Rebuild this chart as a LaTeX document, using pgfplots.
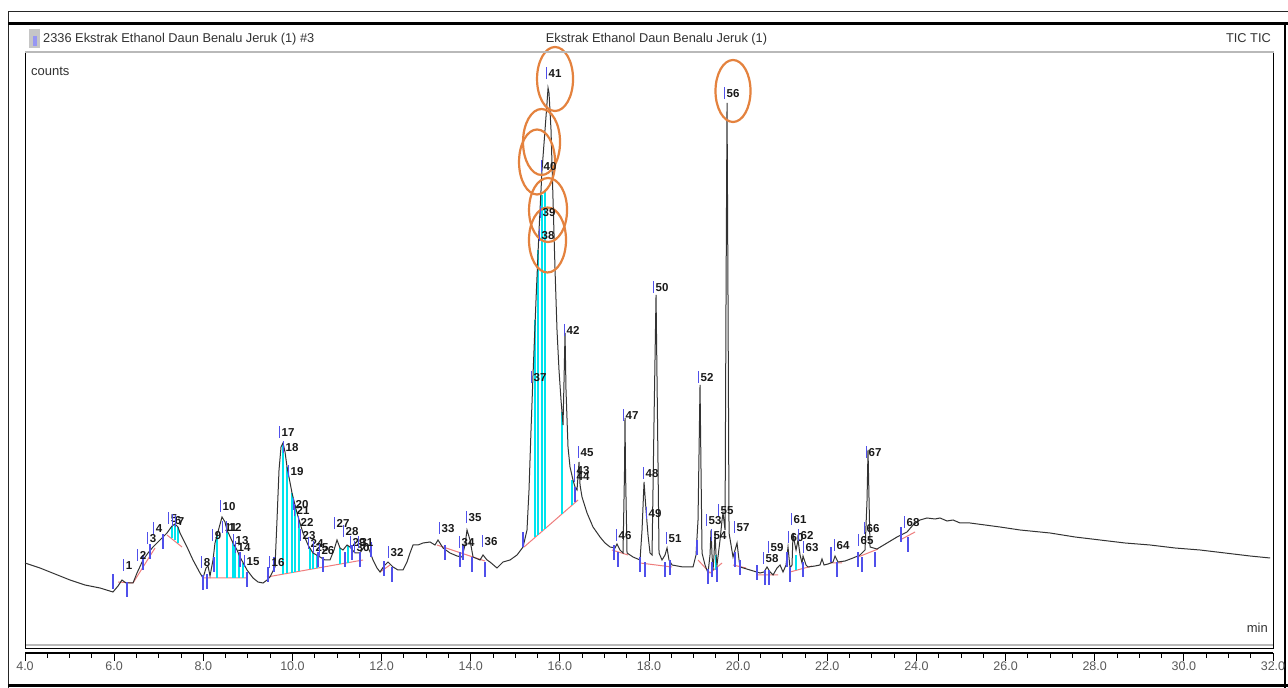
\documentclass[border=0pt]{standalone}
\usepackage{pgfplots}
\usepackage{pgfplotstable}
\pgfplotsset{compat=1.18}
\usepackage{fontspec}
\setmainfont{Liberation Sans}
\definecolor{pkblue}{RGB}{80,80,235}
\definecolor{pkcyan}{RGB}{0,228,238}
\definecolor{pkred}{RGB}{238,125,125}
\definecolor{circ}{RGB}{228,130,62}
\definecolor{txt}{RGB}{50,50,50}

% retention time (min)  vs  signal height (relative counts)
\pgfplotstableread{
t v
4.000 85
4.337 80
4.673 74
5.010 68
5.346 63
5.683 60
5.974 56
6.087 62
6.176 68
6.266 65
6.423 65
6.513 75
6.648 88
6.760 95
6.872 101
7.029 108
7.186 115
7.298 122
7.366 124
7.433 121
7.478 115
7.635 101
7.769 88
7.926 75
7.994 70
8.061 80
8.106 82
8.151 72
8.218 88
8.263 105
8.353 120
8.420 131
8.487 126
8.532 118
8.667 105
8.757 98
8.824 91
8.981 78
9.116 70
9.228 66
9.340 65
9.430 68
9.497 71
9.609 81
9.654 128
9.699 178
9.744 201
9.789 205
9.834 196
9.879 181
9.991 155
10.103 135
10.237 115
10.350 103
10.462 95
10.619 91
10.731 88
10.843 88
10.933 98
11.000 108
11.068 100
11.135 98
11.225 103
11.292 101
11.404 95
11.516 95
11.606 101
11.673 103
11.741 96
11.808 88
11.898 80
11.965 76
12.055 82
12.145 86
12.257 81
12.369 78
12.481 78
12.571 86
12.638 95
12.706 103
12.818 103
12.930 105
13.087 106
13.199 103
13.266 108
13.379 100
13.536 95
13.693 92
13.805 91
13.872 103
13.917 118
13.984 108
14.052 91
14.209 88
14.276 93
14.366 88
14.433 86
14.590 80
14.725 86
14.882 88
15.039 93
15.174 101
15.263 118
15.308 158
15.353 218
15.398 273
15.465 348
15.533 418
15.600 478
15.667 518
15.712 545
15.735 560
15.757 555
15.802 518
15.847 448
15.892 378
15.936 318
15.981 278
16.026 248
16.071 223
16.094 268
16.116 315
16.138 258
16.183 201
16.228 181
16.295 168
16.340 161
16.385 158
16.430 186
16.453 163
16.497 151
16.610 135
16.744 121
16.901 111
17.013 105
17.126 101
17.238 100
17.283 104
17.350 98
17.417 95
17.451 178
17.462 230
17.473 178
17.507 95
17.642 91
17.799 88
17.844 118
17.889 166
17.933 138
17.978 113
18.023 95
18.068 93
18.113 228
18.158 353
18.191 228
18.225 95
18.292 88
18.360 93
18.405 100
18.449 88
18.517 83
18.763 81
18.988 81
19.055 93
19.100 128
19.145 263
19.167 178
19.190 95
19.257 83
19.324 75
19.369 93
19.392 118
19.414 93
19.437 78
19.459 93
19.482 115
19.504 93
19.526 83
19.594 108
19.639 128
19.661 135
19.706 118
19.728 348
19.751 545
19.773 348
19.796 115
19.885 91
19.930 98
19.975 105
20.020 88
20.042 81
20.267 78
20.491 75
20.581 76
20.648 81
20.716 76
20.783 73
20.873 80
20.940 83
21.007 76
21.075 83
21.119 101
21.164 80
21.209 83
21.232 115
21.276 103
21.299 98
21.344 108
21.389 93
21.434 85
21.456 92
21.523 83
21.568 81
21.725 82
21.837 83
21.882 89
21.927 83
22.017 84
22.129 86
22.174 92
22.241 86
22.398 87
22.578 90
22.735 93
22.847 98
22.892 148
22.914 198
22.937 148
22.959 101
23.116 99
23.341 105
23.565 111
23.789 116
23.924 123
24.081 128
24.238 130
24.418 129
24.530 130
24.687 127
24.822 128
24.979 125
25.203 125
25.540 123
25.876 121
26.325 118
26.998 115
27.559 111
28.120 108
28.681 105
29.242 103
29.803 100
30.363 98
30.924 95
31.485 92
31.934 90
}\trace

% integrated slices (cyan)
\pgfplotstableread{
t v
7.298 110
7.298 122
nan nan
7.366 108
7.366 124
nan nan
7.433 105
7.433 121
nan nan
8.308 70
8.308 113
nan nan
8.532 70
8.532 118
nan nan
8.667 70
8.667 105
nan nan
8.712 70
8.712 103
nan nan
8.801 70
8.801 95
nan nan
8.891 70
8.891 85
nan nan
9.789 74
9.789 205
nan nan
9.879 75
9.879 181
nan nan
9.991 75
9.991 155
nan nan
10.058 76
10.058 143
nan nan
10.148 77
10.148 128
nan nan
10.395 79
10.395 100
nan nan
10.462 79
10.462 95
nan nan
10.552 80
10.552 93
nan nan
11.068 84
11.068 100
nan nan
11.247 85
11.247 102
nan nan
15.443 111
15.443 328
nan nan
15.510 113
15.510 398
nan nan
15.600 117
15.600 453
nan nan
15.667 119
15.667 458
nan nan
16.049 134
16.049 236
nan nan
16.273 143
16.273 168
nan nan
19.504 78
19.504 93
nan nan
21.299 78
21.299 93
}\slices

% integration baselines (red)
\pgfplotstableread{
t v
6.087 66
6.423 65
nan nan
6.423 65
6.917 100
nan nan
7.186 113
7.523 101
nan nan
7.994 70
9.003 70
nan nan
9.430 71
11.584 88
nan nan
11.965 76
12.190 83
nan nan
13.244 103
14.321 87
nan nan
15.196 101
16.408 148
nan nan
17.171 98
17.530 93
nan nan
17.799 85
18.517 81
nan nan
19.100 88
19.369 75
19.639 85
nan nan
19.885 83
20.177 80
nan nan
20.424 73
20.895 73
nan nan
21.164 76
21.658 82
nan nan
22.062 85
22.331 85
nan nan
22.690 91
23.139 99
nan nan
23.632 108
23.969 116
}\bases

% peak start/end markers (blue)
\pgfplotstableread{
t v
5.974 66
6.289 58
6.648 85
6.805 96
7.096 106
7.994 65
8.084 66
8.241 83
8.824 88
8.981 68
9.452 73
9.587 83
10.574 88
10.686 83
11.180 88
11.337 95
11.516 88
11.763 98
12.055 79
12.234 73
13.424 95
13.760 88
13.827 95
14.029 83
14.321 78
15.174 108
16.340 153
17.215 95
17.305 88
17.799 83
17.911 78
18.360 78
18.472 80
19.078 100
19.324 71
19.414 78
19.526 73
19.930 88
20.042 80
20.424 75
20.603 70
20.693 70
21.097 88
21.164 73
21.456 78
22.084 93
22.219 78
22.690 88
22.780 83
23.071 88
23.655 113
23.812 103
}\ticksb

% peak numbers
\pgfplotstableread{
t v l
6.333 83 1
6.648 93 2
6.872 110 3
7.007 120 4
7.343 130 5
7.433 128 6
7.500 127 7
8.084 86 8
8.330 113 9
8.577 142 10
8.622 121 11
8.712 121 12
8.869 108 13
8.914 101 14
9.116 87 15
9.677 86 16
9.901 216 17
9.991 201 18
10.103 177 19
10.215 144 20
10.238 138 21
10.327 126 22
10.372 113 23
10.552 105 24
10.664 101 25
10.798 98 26
11.135 125 27
11.337 117 28
11.494 106 29
11.584 101 30
11.673 106 31
12.347 96 32
13.491 120 33
13.940 106 34
14.097 131 35
14.456 107 36
15.555 271 37
15.735 413 38
15.757 436 39
15.780 482 40
15.892 575 41
16.295 318 42
16.520 178 43
16.520 172 44
16.610 196 45
17.462 113 46
17.619 233 47
18.068 175 48
18.135 135 49
18.292 361 50
18.584 110 51
19.302 271 52
19.482 128 53
19.594 113 54
19.751 138 55
19.885 555 56
20.110 121 57
20.761 90 58
20.873 101 59
21.322 111 60
21.389 129 61
21.546 113 62
21.658 101 63
22.353 103 64
22.892 108 65
23.027 120 66
23.071 196 67
23.924 126 68
}\labels

\begin{document}
\begin{tikzpicture}[x=1pt,y=1pt]
\useasboundingbox (0,0) rectangle (1288,688);
\fill[white] (0,0) rectangle (1288,688);
% window frame
\draw[black!85, line width=1pt] (8,0) -- (8,676) -- (1288,676);
\draw[black, line width=3pt] (8,664) -- (1288,664);
\draw[black, line width=1.2pt] (1285,664) -- (1285,0);
\draw[black, line width=3pt] (8,2) -- (1288,2);
% header
\fill[gray!45] (29,640) rectangle (40,659);
\fill[pkblue!60] (33,642) rectangle (37,652);
\node[anchor=base west, inner sep=0pt, text=txt, font=\fontsize{12.8}{14}\selectfont] at (43,645.5) {2336 Ekstrak Ethanol Daun Benalu Jeruk (1) \#3};
\node[anchor=base, inner sep=0pt, text=txt, font=\fontsize{12.8}{14}\selectfont] at (656.5,645.5) {Ekstrak Ethanol Daun Benalu Jeruk (1)};
\node[anchor=base east, inner sep=0pt, text=txt, font=\fontsize{12.8}{14}\selectfont] at (1271,645.5) {TIC TIC};

\begin{axis}[
  at={(25pt,40pt)}, anchor=south west,
  scale only axis, width=1248pt, height=596pt,
  xmin=4, xmax=32, ymin=0, ymax=596,
  xtick=\empty, ytick=\empty,
  axis line style={black, line width=0.9pt},
  clip=false,
  unbounded coords=jump,
]
\addplot[pkred, line width=1pt] table {\bases};
\addplot[pkcyan, line width=1.3pt] table {\slices};
\addplot[black!80, line width=1pt] table {\trace};
\addplot[only marks, mark=|, mark size=7.5pt, mark options={pkblue, line width=1.2pt}] table {\ticksb};
\addplot[only marks, mark=none, point meta=explicit symbolic,
  nodes near coords={\llap{\textcolor{pkblue}{\rule[-1pt]{1.2pt}{11.5pt}}\hspace{1.5pt}}\pgfplotspointmeta},
  nodes near coords style={anchor=center, inner sep=0pt, text=black!90, font=\fontsize{11.5}{12}\selectfont\bfseries}]
  table[meta=l] {\labels};
\draw[circ, line width=2.2pt] (axis cs:15.892,569) ellipse [x radius=18pt, y radius=32pt];
\draw[circ, line width=2.2pt] (axis cs:15.589,506) ellipse [x radius=18.5pt, y radius=33pt];
\draw[circ, line width=2.2pt] (axis cs:15.488,486) ellipse [x radius=18pt, y radius=32.5pt];
\draw[circ, line width=2.2pt] (axis cs:15.735,438) ellipse [x radius=19pt, y radius=32pt];
\draw[circ, line width=2.2pt] (axis cs:15.723,408) ellipse [x radius=18.5pt, y radius=32.5pt];
\draw[circ, line width=2.2pt] (axis cs:19.885,557) ellipse [x radius=17.5pt, y radius=31pt];
\end{axis}
% header separator and box bottom double line
\draw[gray!55, line width=2.5pt] (25,636) -- (1274,636);
\draw[gray!55, line width=1.2pt] (26,43) -- (1273,43);
\node[anchor=base west, inner sep=0pt, text=txt, font=\fontsize{13}{14}\selectfont] at (31,612) {counts};
\node[anchor=base east, inner sep=0pt, text=txt, font=\fontsize{13}{14}\selectfont] at (1268,55) {min};

\begin{axis}[
  at={(25pt,35pt)}, anchor=south west,
  scale only axis, width=1248pt, height=10pt,
  xmin=4, xmax=32, ymin=0, ymax=1,
  axis x line=bottom, axis y line=none,
  x axis line style={-, line width=1.4pt},
  xtick={4,6,...,32},
  xticklabels={4.0,6.0,8.0,10.0,12.0,14.0,16.0,18.0,20.0,22.0,24.0,26.0,28.0,30.0,32.0},
  minor x tick num=3,
  tick align=outside,
  major tick length=8pt, minor tick length=5pt,
  every tick/.style={black, line width=1pt},
  xticklabel style={font=\fontsize{12.5}{13}\selectfont, text=black!65, inner sep=1pt},
  /pgf/number format/assume math mode=true,
]
\addplot[draw=none] coordinates {(4,0) (32,0)};
\end{axis}
\end{tikzpicture}
\end{document}
